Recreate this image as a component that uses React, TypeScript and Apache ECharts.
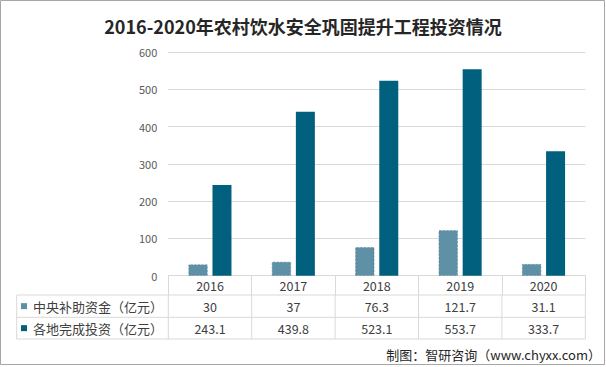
import React, { useEffect, useRef } from 'react';
import * as echarts from 'echarts';

// ---- data ----
const years = ['2016', '2017', '2018', '2019', '2020'];
const centralFunds = [30, 37, 76.3, 121.7, 31.1];
const localInvest = [243.1, 439.8, 523.1, 553.7, 333.7];
const seriesNames = ['中央补助资金（亿元）', '各地完成投资（亿元）'];
const seriesColors = ['#5E90A6', '#02607F'];
const titleText = '2016-2020年农村饮水安全巩固提升工程投资情况';
const sourceText = '制图：智研咨询（www.chyxx.com）';
const yMin = 0;
const yMax = 600;
const yInterval = 100;

// ---- layout ----
const W = 606;
const H = 367;
const GRID_LEFT = 168.3;
const GRID_RIGHT_X = 585.3;
const GRID_TOP = 52;
const GRID_BOTTOM_Y = 275.7;
const ROW_LINES = [295, 317.3, 339];
const TABLE_LEFT = 16.7;
const LINE_COLOR = '#D9D9D9';
const FONT = "'Noto Sans CJK SC', 'Noto Sans', sans-serif";

export default function App() {
  const ref = useRef<HTMLDivElement>(null);

  useEffect(() => {
    if (!ref.current) return;
    const chart = echarts.init(ref.current, undefined, { renderer: 'svg' });
    const colW = (GRID_RIGHT_X - GRID_LEFT) / years.length;
    const rows = [centralFunds, localInvest];

    const graphics: any[] = [];
    // outer border
    graphics.push({
      type: 'rect',
      shape: { x: 0.5, y: 0.5, width: 604, height: 364 },
      style: { fill: 'none', stroke: '#A6A6A6', lineWidth: 1 },
      silent: true,
    });
    // horizontal table lines
    ROW_LINES.forEach((y) => {
      graphics.push({
        type: 'line',
        shape: { x1: TABLE_LEFT, y1: y, x2: GRID_RIGHT_X, y2: y },
        style: { stroke: LINE_COLOR, lineWidth: 1 },
        silent: true,
      });
    });
    // vertical lines for data rows
    const vx = [TABLE_LEFT];
    for (let i = 0; i <= years.length; i++) vx.push(GRID_LEFT + i * colW);
    vx.forEach((x) => {
      graphics.push({
        type: 'line',
        shape: { x1: x, y1: ROW_LINES[0], x2: x, y2: ROW_LINES[ROW_LINES.length - 1] },
        style: { stroke: LINE_COLOR, lineWidth: 1 },
        silent: true,
      });
    });
    // legend keys + values
    rows.forEach((vals, r) => {
      const cy = (ROW_LINES[r] + ROW_LINES[r + 1]) / 2;
      graphics.push({
        type: 'rect',
        shape: { x: 21, y: cy - 3, width: 6, height: 6 },
        style: { fill: seriesColors[r] },
        silent: true,
      });
      graphics.push({
        type: 'text',
        x: 33,
        y: cy,
        style: {
          text: seriesNames[r],
          fill: '#404040',
          font: `13px ${FONT}`,
          textAlign: 'left',
          textVerticalAlign: 'middle',
        },
        silent: true,
      });
      vals.forEach((v, i) => {
        graphics.push({
          type: 'text',
          x: GRID_LEFT + (i + 0.5) * colW,
          y: cy,
          style: {
            text: String(v),
            fill: '#404040',
            font: `12.5px ${FONT}`,
            textAlign: 'center',
            textVerticalAlign: 'middle',
          },
          silent: true,
        });
      });
    });
    // source
    graphics.push({
      type: 'text',
      x: 601,
      y: 354,
      style: {
        text: sourceText,
        fill: '#262626',
        font: `13px ${FONT}`,
        textAlign: 'right',
        textVerticalAlign: 'middle',
      },
      silent: true,
    });

    chart.setOption({
      animation: false,
      backgroundColor: '#FFFFFF',
      title: {
        text: titleText,
        left: 'center',
        top: 12,
        textStyle: {
          fontSize: 18,
          fontWeight: 'bold',
          color: '#262626',
          fontFamily: FONT,
        },
      },
      grid: {
        left: GRID_LEFT,
        right: W - GRID_RIGHT_X,
        top: GRID_TOP,
        bottom: H - GRID_BOTTOM_Y,
        containLabel: false,
      },
      xAxis: {
        type: 'category',
        data: years,
        axisLine: { show: true, lineStyle: { color: LINE_COLOR } },
        axisTick: { show: true, length: ROW_LINES[0] - GRID_BOTTOM_Y, lineStyle: { color: LINE_COLOR } },
        axisLabel: {
          color: '#404040',
          fontSize: 12.5,
          fontFamily: FONT,
          verticalAlign: 'middle',
          margin: (ROW_LINES[0] - GRID_BOTTOM_Y) / 2,
        },
      },
      yAxis: {
        type: 'value',
        min: yMin,
        max: yMax,
        interval: yInterval,
        axisLine: { show: false },
        axisTick: { show: false },
        axisLabel: { color: '#595959', fontSize: 11, fontFamily: FONT, margin: 11 },
        splitLine: { lineStyle: { color: LINE_COLOR } },
      },
      series: [
        {
          name: seriesNames[0],
          type: 'bar',
          data: centralFunds,
          barWidth: 19,
          barGap: '26%',
          itemStyle: {
            color: seriesColors[0],
            borderColor: '#50809A',
            borderWidth: 0.6,
            borderType: 'dashed',
          },
        },
        {
          name: seriesNames[1],
          type: 'bar',
          data: localInvest,
          barWidth: 19,
          barGap: '26%',
          itemStyle: { color: seriesColors[1] },
        },
      ],
      graphic: graphics,
    });

    return () => chart.dispose();
  }, []);

  return (
    <div
      ref={ref}
      style={{ position: 'fixed', left: 0, top: 0, width: W, height: H }}
    />
  );
}
